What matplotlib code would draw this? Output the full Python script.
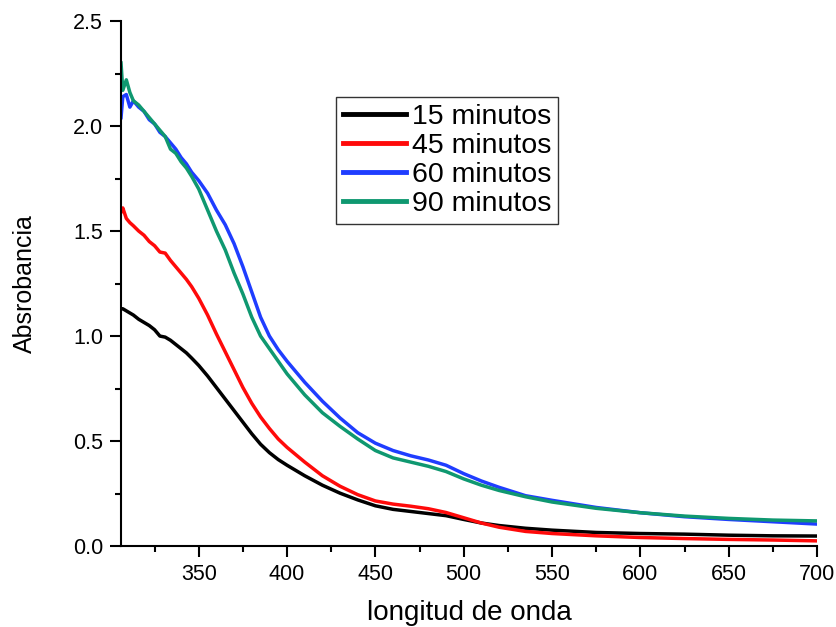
import matplotlib.pyplot as plt

plt.rcParams['font.family'] = ['Liberation Sans', 'DejaVu Sans']

# wavelength (nm) and absorbance
wl = [306, 307, 309, 311, 313, 316, 319, 322, 325, 328, 331, 334, 337, 340, 343, 346,
      350, 355, 360, 365, 370, 375, 380, 385, 390, 395, 400, 410, 420, 430, 440, 450,
      460, 470, 480, 490, 500, 510, 520, 535, 550, 575, 600, 625, 650, 675, 700]

abs15 = [1.13, 1.13, 1.12, 1.11, 1.10, 1.08, 1.065, 1.05, 1.03, 1.00, 0.995, 0.98, 0.96, 0.94, 0.92, 0.895,
         0.86, 0.81, 0.755, 0.70, 0.645, 0.59, 0.535, 0.485, 0.445, 0.412, 0.385, 0.335, 0.29, 0.252, 0.22, 0.192,
         0.175, 0.165, 0.155, 0.145, 0.127, 0.11, 0.098, 0.085, 0.076, 0.065, 0.060, 0.057, 0.052, 0.049, 0.048]

abs45 = [1.59, 1.61, 1.56, 1.54, 1.525, 1.50, 1.48, 1.45, 1.43, 1.40, 1.395, 1.36, 1.33, 1.30, 1.27, 1.235,
         1.18, 1.10, 1.01, 0.925, 0.84, 0.755, 0.68, 0.615, 0.56, 0.51, 0.47, 0.40, 0.335, 0.285, 0.245, 0.215,
         0.20, 0.19, 0.178, 0.16, 0.135, 0.11, 0.09, 0.07, 0.06, 0.049, 0.041, 0.036, 0.032, 0.029, 0.025]

abs60 = [2.04, 2.14, 2.15, 2.09, 2.12, 2.09, 2.07, 2.03, 2.01, 1.97, 1.95, 1.92, 1.89, 1.85, 1.82, 1.78,
         1.74, 1.68, 1.60, 1.53, 1.44, 1.33, 1.21, 1.09, 1.00, 0.935, 0.88, 0.78, 0.69, 0.61, 0.54, 0.49,
         0.455, 0.43, 0.41, 0.385, 0.345, 0.31, 0.28, 0.24, 0.218, 0.184, 0.159, 0.14, 0.127, 0.116, 0.105]

abs90 = [2.30, 2.17, 2.22, 2.16, 2.12, 2.10, 2.07, 2.04, 2.01, 1.98, 1.95, 1.89, 1.87, 1.83, 1.80, 1.76,
         1.70, 1.60, 1.50, 1.41, 1.30, 1.20, 1.09, 1.00, 0.94, 0.88, 0.82, 0.72, 0.635, 0.57, 0.51, 0.455,
         0.42, 0.40, 0.38, 0.355, 0.32, 0.29, 0.265, 0.235, 0.21, 0.18, 0.159, 0.143, 0.132, 0.124, 0.12]

labels = ['15 minutos', '45 minutos', '60 minutos', '90 minutos']
colors = ['#000000', '#ff0a0a', '#1f3dff', '#0f9870']

fig = plt.figure(figsize=(8.37, 6.27), dpi=100)
ax = fig.add_axes([0.1446, 0.129, 0.8315, 0.8375])

for ys, lab, c in zip([abs15, abs45, abs60, abs90], labels, colors):
    ax.plot(wl, ys, color=c, lw=2.5, label=lab)

ax.set_xlim(306, 700)
ax.set_ylim(0, 2.5)
ax.set_xticks([350, 400, 450, 500, 550, 600, 650, 700])
ax.set_xticks([325, 375, 425, 475, 525, 575, 625, 675], minor=True)
ax.set_yticks([0.0, 0.5, 1.0, 1.5, 2.0, 2.5])
ax.set_yticks([0.25, 0.75, 1.25, 1.75, 2.25], minor=True)
ax.set_yticklabels(['0.0', '0.5', '1.0', '1.5', '2.0', '2.5'])

for s in ['top', 'right']:
    ax.spines[s].set_visible(False)
for s in ['left', 'bottom']:
    ax.spines[s].set_linewidth(1.5)

ax.tick_params(which='major', direction='out', length=8, width=1.5, labelsize=15.5, pad=5)
ax.tick_params(which='minor', direction='out', length=4.5, width=1.5)

ax.set_xlabel('longitud de onda', fontsize=20, labelpad=10.5)
ax.set_ylabel('Absrobancia', fontsize=18, labelpad=26)

leg = ax.legend(loc='upper left', bbox_to_anchor=(0.309, 0.855), borderaxespad=0,
                fontsize=20.5, frameon=True, fancybox=False, handlelength=2.2,
                labelspacing=0.1, borderpad=0.25, handletextpad=0.2)
leg.get_frame().set_edgecolor('black')
leg.get_frame().set_linewidth(1.0)
for h in leg.get_lines():
    h.set_linewidth(3.5)

fig.savefig('out.png', dpi=100)
